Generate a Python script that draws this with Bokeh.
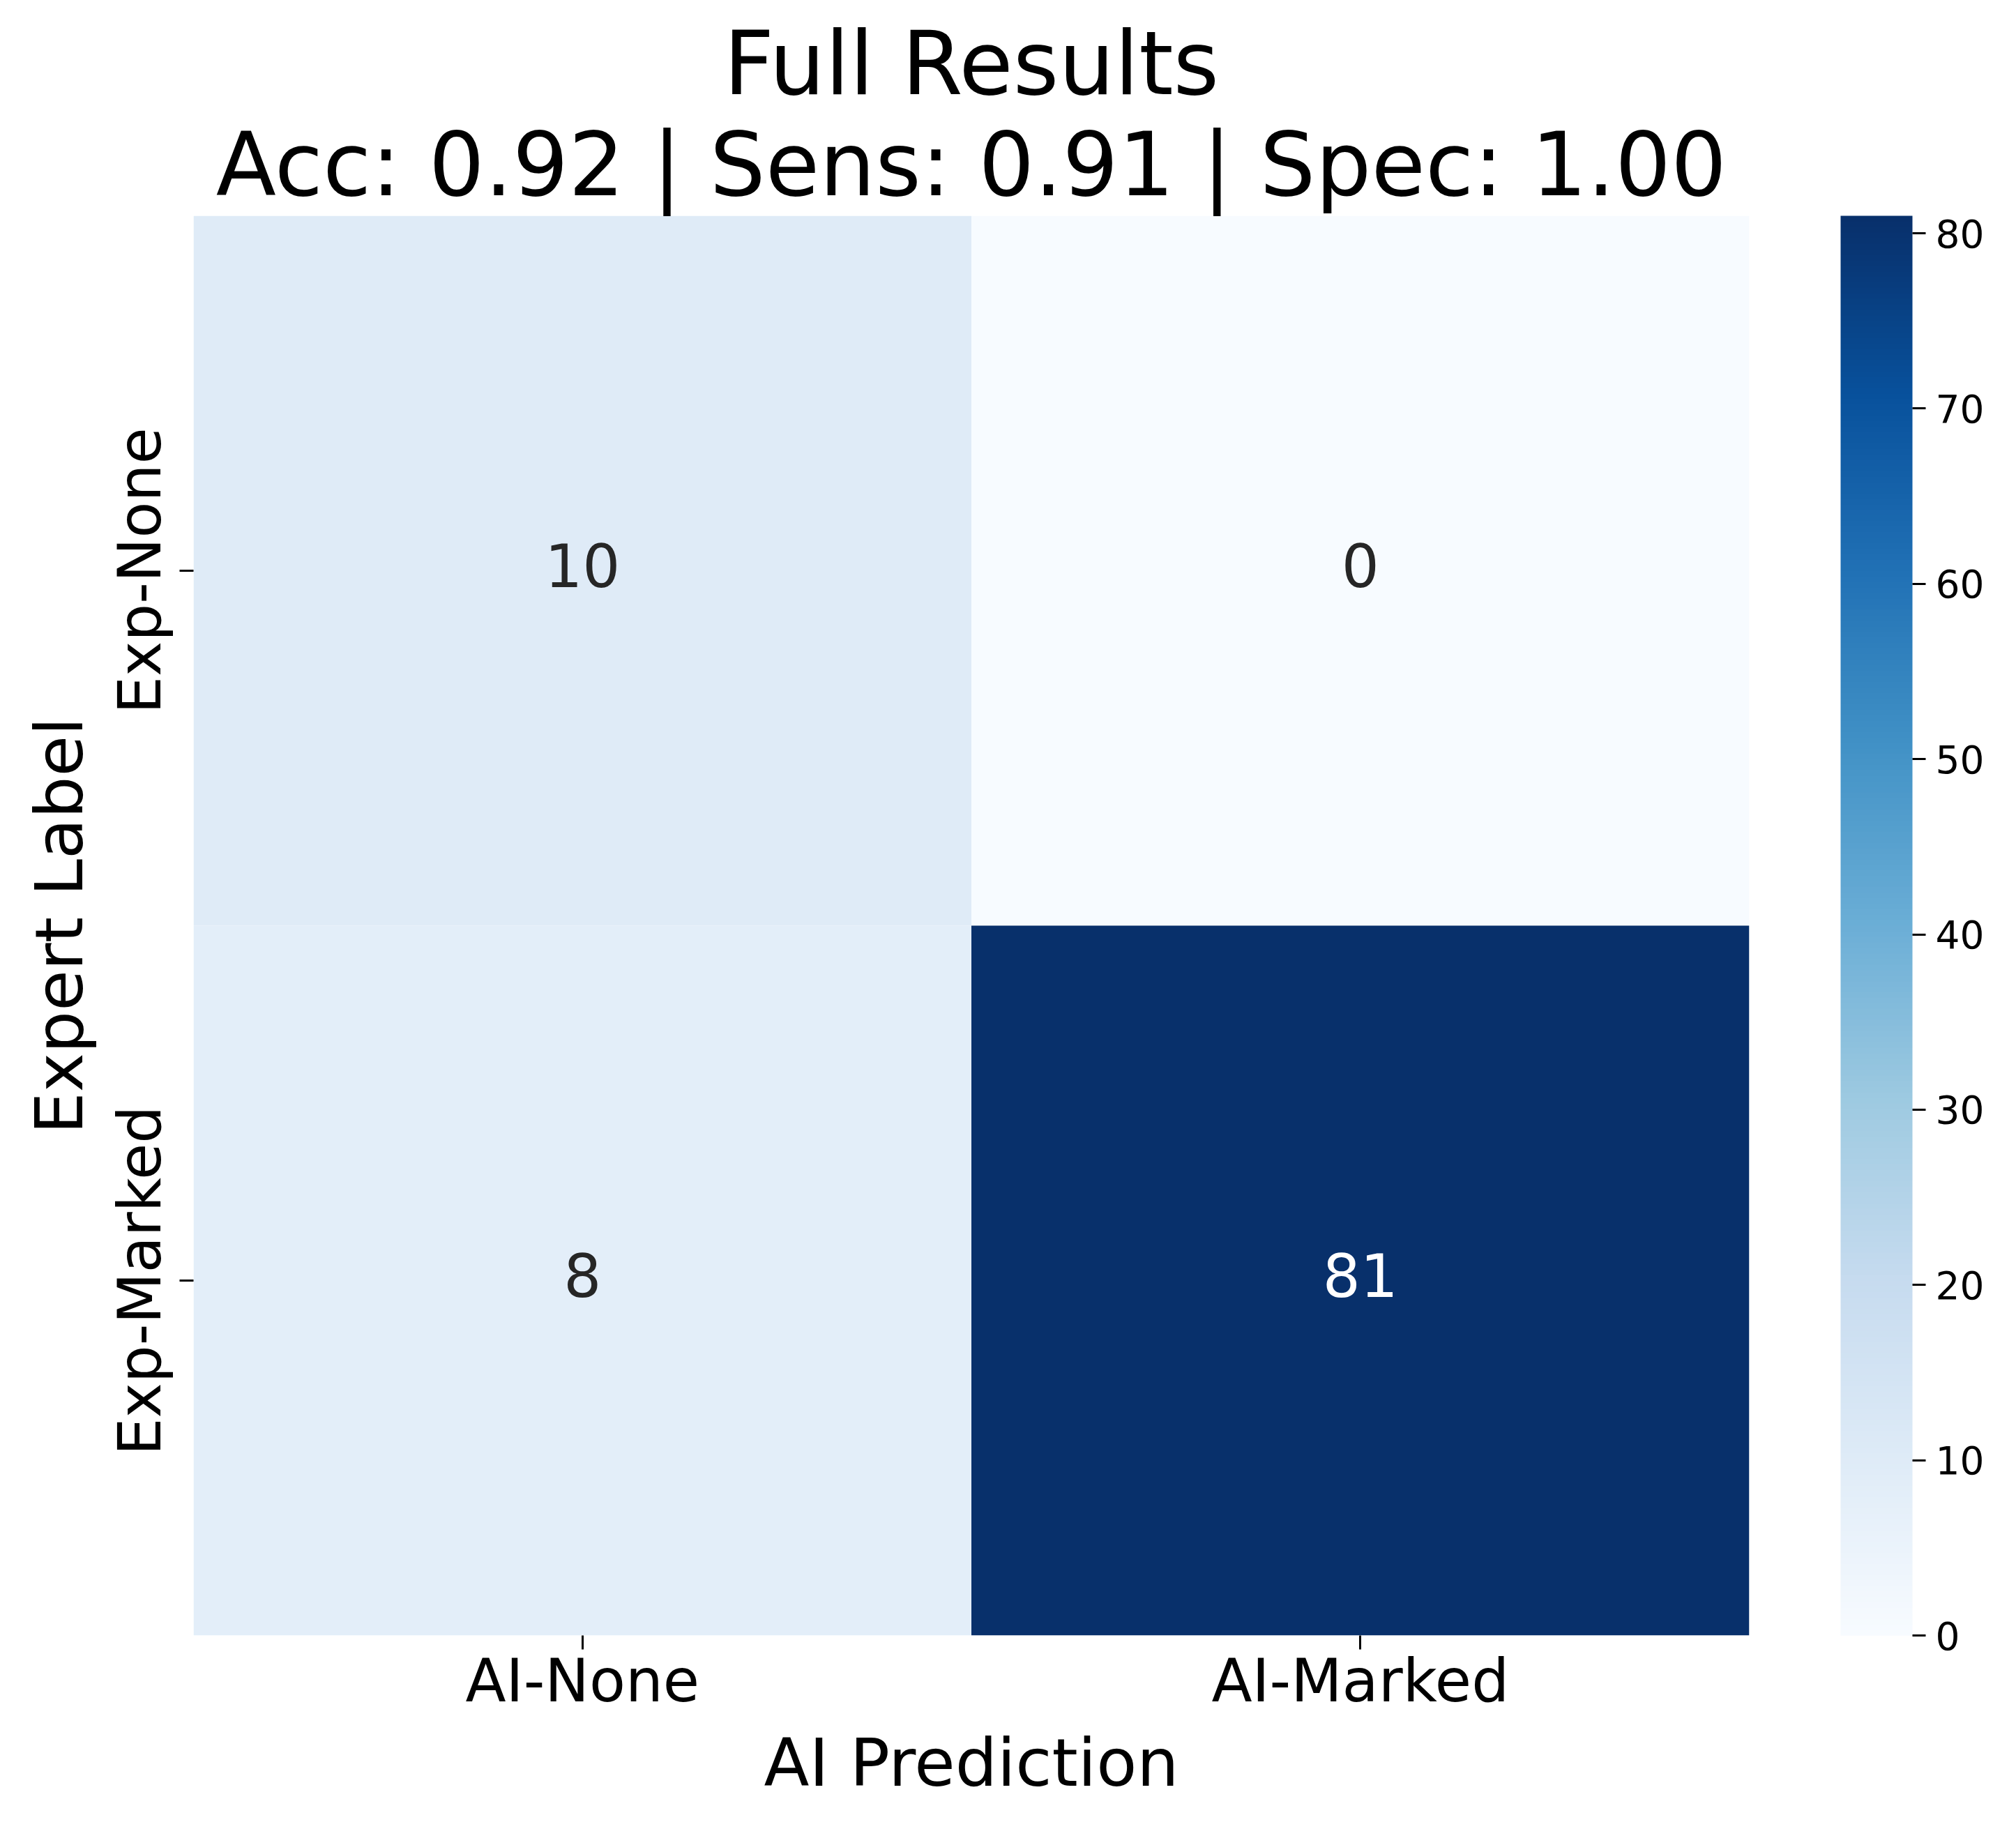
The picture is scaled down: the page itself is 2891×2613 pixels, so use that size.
from bokeh.plotting import figure
from bokeh.models import (ColumnDataSource, LinearColorMapper, ColorBar, FixedTicker,
                          FactorRange, Title)
from bokeh.transform import transform
from bokeh.palettes import Blues256
from bokeh.core.properties import value
from bokeh.embed import file_html
from bokeh.resources import INLINE

# ---- data ----
pred_labels = ["AI-None", "AI-Marked"]
expert_labels = ["Exp-None", "Exp-Marked"]
# counts[i][j] : expert label i, AI prediction j
counts = [[10, 0],
          [8, 81]]
title_lines = ["Full Results", "Acc: 0.92 | Sens: 0.91 | Spec: 1.00"]
cbar_ticks = [0, 10, 20, 30, 40, 50, 60, 70, 80]

FONT = "DejaVu Sans"

xs, ys, vals, txt = [], [], [], []
for i, e in enumerate(expert_labels):
    for j, a in enumerate(pred_labels):
        xs.append(a)
        ys.append(e)
        vals.append(counts[i][j])
        txt.append(str(counts[i][j]))

vmax = max(max(r) for r in counts)
palette = list(reversed(Blues256))
mapper = LinearColorMapper(palette=palette, low=0, high=vmax)


def text_color(v):
    # luminance-based choice like seaborn annotations
    idx = int(round(v / vmax * 255))
    c = palette[min(max(idx, 0), 255)]
    r, g, b = (int(c[k:k + 2], 16) / 255 for k in (1, 3, 5))
    lum = 0.2126 * r + 0.7152 * g + 0.0722 * b
    return "#262626" if lum > 0.408 else "#ffffff"


src = ColumnDataSource(dict(x=xs, y=ys, v=vals, t=txt,
                            tc=[text_color(v) for v in vals]))

FRAME_W, FRAME_H = 2231, 2036
LEFT, TOP = 277, 309
W, H = 2875, 2597

p = figure(width=W, height=H,
           x_range=FactorRange(*pred_labels, range_padding=0),
           y_range=FactorRange(*reversed(expert_labels), range_padding=0),
           output_backend="svg", toolbar_location=None,
           title=title_lines[0],
           min_border_left=LEFT, min_border_top=TOP,
           min_border_right=W - LEFT - FRAME_W,
           min_border_bottom=H - TOP - FRAME_H)

p.rect(x="x", y="y", width=1, height=1, source=src,
       fill_color=transform("v", mapper), line_color=None)

p.text(x="x", y="y", text="t", source=src, text_align="center",
       text_baseline="middle", text_font=value(FONT),
       text_font_size="85px", text_color="tc", y_offset=-8)

# title: two centered lines (second line sits next to the frame)
p.title.text_font = FONT
p.title.text_font_size = "126px"
p.title.text_font_style = "normal"
p.title.text_color = "black"
p.title.align = "center"
p.title.standoff = -9
sub_title = Title(text=title_lines[1], align="center", text_font=FONT,
                  text_font_size="126px", text_font_style="normal",
                  text_color="black", standoff=0)
p.add_layout(sub_title, "above")

p.grid.visible = False
p.outline_line_color = None
p.background_fill_color = "white"

for ax in (p.xaxis[0], p.yaxis[0]):
    ax.axis_line_color = None
    ax.major_tick_in = 0
    ax.major_tick_out = 20
    ax.major_tick_line_width = 3
    ax.major_tick_line_color = "black"
    ax.minor_tick_line_color = None
    ax.major_label_text_font = FONT
    ax.major_label_text_font_size = "85px"
    ax.major_label_text_color = "black"
    ax.axis_label_text_font = FONT
    ax.axis_label_text_font_size = "95px"
    ax.axis_label_text_font_style = "normal"
    ax.axis_label_text_color = "black"

p.xaxis.axis_label = "AI Prediction"
p.yaxis.axis_label = "Expert Label"
p.yaxis.major_label_orientation = "vertical"
p.xaxis.major_label_standoff = -5
p.yaxis.major_label_standoff = 8
p.xaxis.axis_label_standoff = 10
p.yaxis.axis_label_standoff = 8

cbar = ColorBar(color_mapper=mapper, ticker=FixedTicker(ticks=cbar_ticks),
                width=103, height=FRAME_H, padding=0, margin=0,
                location=(2643 - 281, 0),
                major_tick_in=0, major_tick_out=19,
                major_tick_line_color="black", major_tick_line_width=3,
                label_standoff=14,
                major_label_text_font=FONT, major_label_text_font_size="55px",
                major_label_text_color="black",
                bar_line_color=None, border_line_color=None,
                background_fill_color=None)
p.add_layout(cbar, "center")

open("out.html", "w").write(file_html(p, INLINE))
